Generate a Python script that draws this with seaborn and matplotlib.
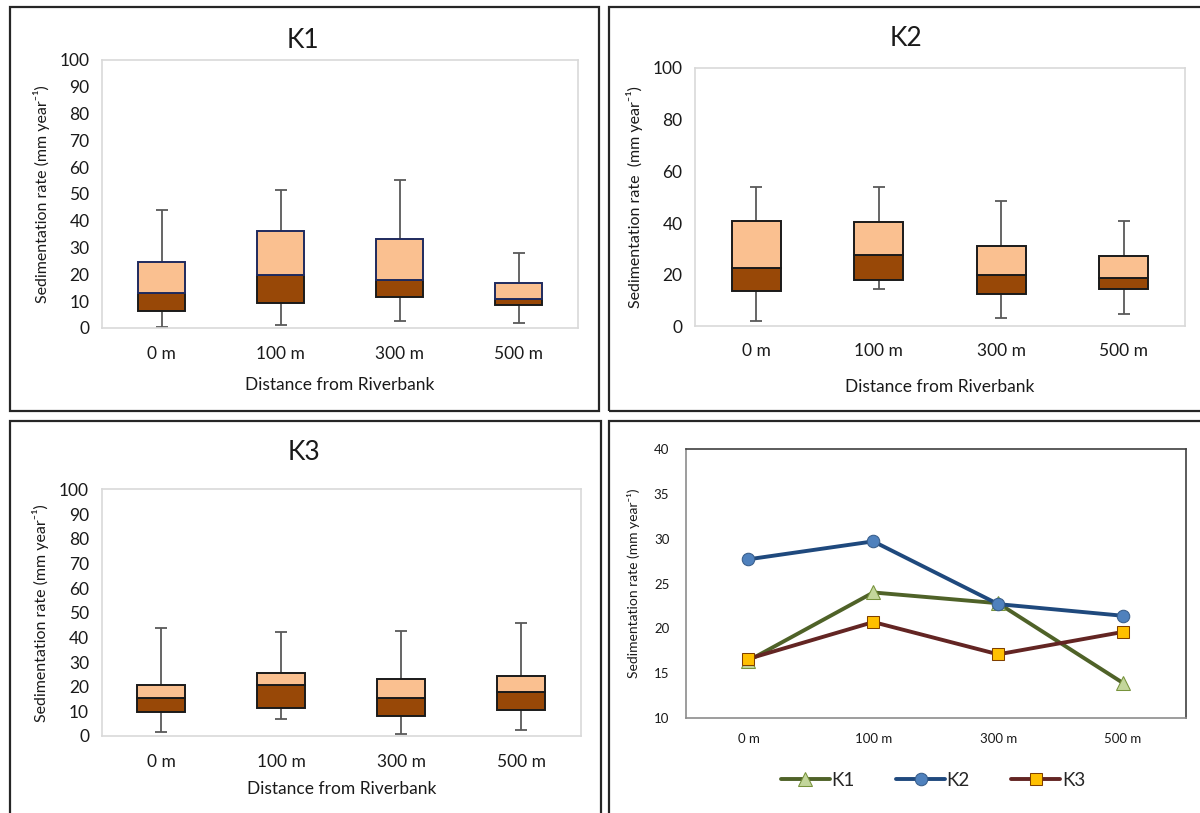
import numpy as np
import matplotlib
matplotlib.use("Agg")
import matplotlib.pyplot as plt
from matplotlib.patches import Rectangle
import seaborn as sns

sns.set_style("white")
plt.rcParams["font.family"] = ["Lato", "DejaVu Sans"]

# ---------------- data ----------------
distances = ["0 m", "100 m", "300 m", "500 m"]

k1_min = [0.5, 1.0, 2.5, 2.0]
k1_q1 = [6.3, 9.5, 11.7, 8.4]
k1_med = [12.9, 19.9, 17.8, 10.7]
k1_q3 = [24.7, 36.3, 33.1, 16.7]
k1_max = [44.1, 51.6, 55.3, 27.9]

k2_min = [2.0, 14.6, 3.2, 4.8]
k2_q1 = [13.6, 17.9, 12.4, 14.6]
k2_med = [22.7, 27.6, 19.9, 18.8]
k2_q3 = [40.8, 40.4, 31.3, 27.1]
k2_max = [54.0, 54.0, 48.6, 40.8]

k3_min = [1.8, 6.9, 0.7, 2.4]
k3_q1 = [9.8, 11.5, 8.2, 10.5]
k3_med = [15.6, 20.5, 15.6, 17.7]
k3_q3 = [20.5, 25.5, 23.3, 24.5]
k3_max = [43.9, 42.2, 42.6, 45.7]

mean_k1 = [16.4, 24.0, 22.8, 13.9]
mean_k2 = [27.7, 29.7, 22.7, 21.4]
mean_k3 = [16.6, 20.7, 17.1, 19.6]
series_names = ["K1", "K2", "K3"]

# ---------------- layout helpers ----------------
W, H = 1200, 813
fig = plt.figure(figsize=(12, 8.13), dpi=100)


def px_axes(left, top, right, bottom):
    return fig.add_axes([left / W, 1 - bottom / H, (right - left) / W, (bottom - top) / H])


def border(left, top, right, bottom):
    fig.patches.append(Rectangle((left / W, 1 - bottom / H), (right - left) / W, (bottom - top) / H,
                                 transform=fig.transFigure, fill=False, edgecolor="#262626",
                                 linewidth=1.6, zorder=10))


border(9.5, 7.5, 599, 410.5)
border(609, 7.5, 1203, 410.5)
border(9.5, 421.5, 601, 818)
border(609, 421.5, 1203, 818)

LIGHT = "#FAC090"
DARK = "#984807"
TXT = "#1a1a1a"
YLAB = "Sedimentation rate (mm year\u207b\u00b9)"


def box_panel(ax, title, title_xy, vmin, q1, med, q3, vmax, yticks, ylabel, top_edge, xpad, xlpad):
    pos = np.arange(len(distances))
    ax.errorbar(pos, med, yerr=[np.subtract(med, vmin), np.subtract(vmax, med)], fmt="none",
                ecolor="#595959", elinewidth=1.3, capsize=4, capthick=1.3, zorder=1)
    sns.barplot(x=distances, y=np.subtract(med, q1), bottom=q1, color=DARK, saturation=1,
                width=0.4, errorbar=None, edgecolor=TXT, linewidth=1.4, ax=ax, zorder=3)
    sns.barplot(x=distances, y=np.subtract(q3, med), bottom=med, color=LIGHT, saturation=1,
                width=0.4, errorbar=None, edgecolor=top_edge, linewidth=1.4, ax=ax, zorder=3)
    ax.set_xlim(-0.5, 3.5)
    ax.set_ylim(0, 100)
    ax.set_yticks(yticks)
    ax.tick_params(axis="both", length=0, labelsize=12.5, colors=TXT)
    ax.tick_params(axis="x", pad=xpad)
    ax.tick_params(axis="y", pad=9)
    for s in ax.spines.values():
        s.set_color("#D9D9D9")
        s.set_linewidth(1.2)
    fig.text(title_xy[0] / W, 1 - title_xy[1] / H, title, fontsize=19, color=TXT,
             ha="center", va="center")
    ax.set_xlabel("Distance from Riverbank", fontsize=12.5, labelpad=xlpad, color=TXT)
    ax.set_ylabel(ylabel, fontsize=11.5, labelpad=7, color=TXT)


ax1 = px_axes(102, 60, 578, 328)
box_panel(ax1, "K1", (303, 40), k1_min, k1_q1, k1_med, k1_q3, k1_max, np.arange(0, 101, 10),
          YLAB, "#1F2A5E", 13, 11)

ax2 = px_axes(695, 68, 1185, 326.5)
box_panel(ax2, "K2", (906, 39), k2_min, k2_q1, k2_med, k2_q3, k2_max, np.arange(0, 101, 20),
          "Sedimentation rate  (mm year\u207b\u00b9)", TXT, 12, 14)

ax3 = px_axes(101.5, 489.5, 581, 736)
box_panel(ax3, "K3", (304, 452), k3_min, k3_q1, k3_med, k3_q3, k3_max, np.arange(0, 101, 10),
          YLAB, TXT, 13, 8)

# ---------------- line panel ----------------
ax4 = px_axes(686, 449, 1185.5, 718)
styles = [
    dict(color="#4F6228", marker="^", markerfacecolor="#C3D69B", markeredgecolor="#77933C", markersize=10),
    dict(color="#1F497D", marker="o", markerfacecolor="#4F81BD", markeredgecolor="#385D8A", markersize=9),
    dict(color="#632523", marker="s", markerfacecolor="#FFC000", markeredgecolor="#7F3F00", markersize=9),
]
for name, vals, st in zip(series_names, [mean_k1, mean_k2, mean_k3], styles):
    sns.lineplot(x=np.arange(len(distances)), y=vals, linewidth=2.8, label=name, zorder=3,
                 ax=ax4, legend=False, **st)
ax4.set_xticks(np.arange(len(distances)))
ax4.set_xticklabels(distances)
ax4.set_xlim(-0.5, 3.5)
ax4.set_ylim(10, 40)
ax4.set_yticks(np.arange(10, 41, 5))
ax4.tick_params(axis="both", length=0, labelsize=9.5, colors=TXT)
ax4.tick_params(axis="x", pad=11)
ax4.tick_params(axis="y", pad=12)
for side, s in ax4.spines.items():
    s.set_color("#404040")
    s.set_linewidth(1.2)
ax4.spines["left"].set_color("#8c8c8c")
ax4.spines["bottom"].set_color("#8c8c8c")
ax4.set_ylabel(YLAB, fontsize=10, labelpad=10, color=TXT)
handles, labels = ax4.get_legend_handles_labels()
ax4.legend(handles, labels, loc="center", bbox_to_anchor=(933 / W, 1 - 780 / H),
           bbox_transform=fig.transFigure, ncol=3, frameon=False, fontsize=13.5,
           handlelength=2.6, columnspacing=2.2, handletextpad=0.1)

fig.savefig("out.png", dpi=100, facecolor="white")
